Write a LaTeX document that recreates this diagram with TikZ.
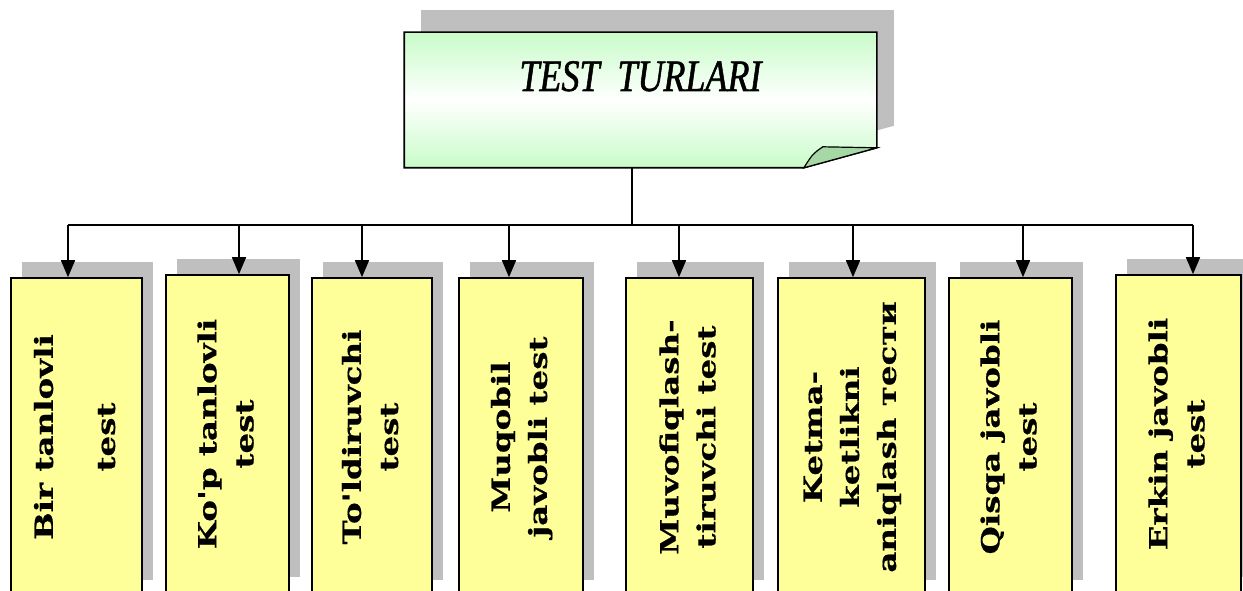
\documentclass[tikz,border=0pt]{standalone}
\usepackage{graphicx}
\usepackage{fontspec}
\setmainfont{DejaVu Serif}
\newfontfamily\leaffont[FakeStretch=1.3,FakeBold=0.6]{DejaVu Serif}
\newfontfamily\titlefont[FakeStretch=0.8,FakeBold=1.2]{Liberation Serif}
\usetikzlibrary{shadows,arrows.meta}
\pgfdeclarelayer{background}
\pgfsetlayers{background,main}

\definecolor{leafyellow}{HTML}{FFFF99}
\definecolor{shadowgray}{HTML}{BFBFBF}
\definecolor{notegreen}{HTML}{C8FCC8}
\definecolor{foldgreen}{HTML}{A6D8A6}

\newcommand{\vlabel}[1]{\rotatebox{90}{\begin{tabular}{@{}c@{}}#1\end{tabular}}}

\tikzset{
	basic/.style = {rectangle, inner sep=0pt, line width=1.6pt},
	root/.style  = {basic, minimum width=471pt, minimum height=134pt,
		font=\titlefont\itshape\fontsize{45}{50}\selectfont},
	leaf/.style  = {basic, draw, fill=leafyellow, minimum height=318pt,
		drop shadow={shadow xshift=11pt, shadow yshift=16pt, fill=shadowgray, opacity=1},
		font=\leaffont\bfseries\fontsize{25}{37}\selectfont},
	link/.style  = {line width=1.6pt, -{Triangle[length=17pt,width=14pt]}}
}

\begin{document}
\begin{tikzpicture}[x=1pt,y=-1pt]
	\useasboundingbox (0,0) rectangle (1243,591);
	\clip (0,0) rectangle (1243,591);
	
	% root note
	\node[root] (title) at (640.5,100) {\raisebox{9pt}[0pt][0pt]{TEST~~TURLARI}};
	\begin{pgfonlayer}{background}
		\fill[shadowgray, transform canvas={xshift=17pt,yshift=22pt}]
		(title.north west) -- (title.north east) -- ([yshift=20pt]title.south east)
		-- ([xshift=-73pt]title.south east) -- (title.south west) -- cycle;
		\path[draw, line width=1.6pt, top color=notegreen, bottom color=notegreen, middle color=white]
		(title.north west) -- (title.north east) -- ([yshift=20pt]title.south east)
		-- ([xshift=-73pt]title.south east) -- (title.south west) -- cycle;
		\filldraw[fill=foldgreen, line width=1.2pt] ([xshift=-73pt]title.south east)
		.. controls ([xshift=-64pt,yshift=14pt]title.south east) .. ([xshift=-54pt,yshift=21pt]title.south east)
		-- ([yshift=20pt]title.south east) -- cycle;
	\end{pgfonlayer}
	
	% the test types
	\node[leaf, minimum width=131pt] (b1) at (76.5,437) {\vlabel{Bir tanlovli\\[25pt] test}};
	\node[leaf, minimum width=123pt] (b2) at (227.5,434) {\vlabel{Ko'p tanlovli\\ test}};
	\node[leaf, minimum width=120pt] (b3) at (372,437) {\vlabel{To'ldiruvchi\\ test}};
	\node[leaf, minimum width=124pt] (b4) at (521,437) {\vlabel{Muqobil\\ javobli test}};
	\node[leaf, minimum width=127pt] (b5) at (689.5,437) {\vlabel{Muvofiqlash-\\ tiruvchi test}};
	\node[leaf, minimum width=147pt] (b6) at (851.5,437) {\vlabel{Ketma-\\ ketlikni\\ aniqlash тести}};
	\node[leaf, minimum width=123pt] (b7) at (1010.5,437) {\vlabel{Qisqa javobli\\ test}};
	\node[leaf, minimum width=125pt] (b8) at (1178.5,434) {\vlabel{Erkin javobli\\ test}};
	
	% connectors
	\coordinate (bus) at (632,225);
	\draw[line width=1.6pt] (bus |- title.south) -- (bus);
	\draw[line width=1.6pt] (68,225) -- (1193,225);
	\foreach \i/\x in {1/68,2/239,3/362,4/509,5/679,6/853,7/1023,8/1193}
	\draw[link] (\x,225) -- (\x,0 |- b\i.north);
\end{tikzpicture}
\end{document}
